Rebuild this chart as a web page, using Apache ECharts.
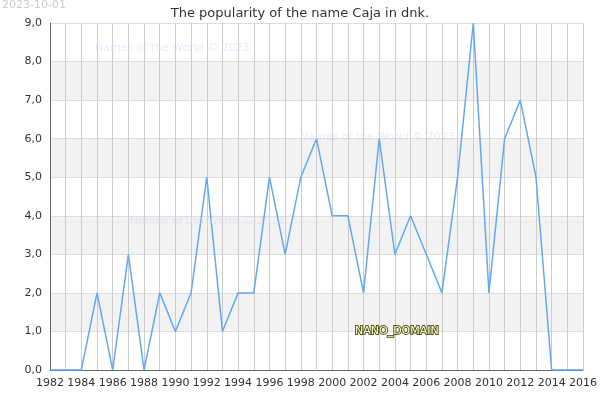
<!DOCTYPE html>
<html><head><meta charset="utf-8">
<script src="https://cdn.jsdelivr.net/npm/echarts@6/dist/echarts.min.js"></script>
</head><body style="margin:0">
<div id="c" style="width:600px;height:400px"></div>
<script>
var years=[1982,1983,1984,1985,1986,1987,1988,1989,1990,1991,1992,1993,1994,1995,1996,1997,1998,1999,2000,2001,2002,2003,2004,2005,2006,2007,2008,2009,2010,2011,2012,2013,2014,2015,2016];
var values=[0,0,0,2,0,3,0,2,1,2,5,1,2,2,5,3,5,6,4,4,2,6,3,4,3,2,5,9,2,6,7,5,0,0,0];
var title="The popularity of the name Caja in dnk.";
var ch=echarts.init(document.getElementById('c'));
var f="DejaVu Sans";
function wm(x,y,t,fill,stroke){return {type:'text',x:x,y:y,z:100,style:{text:t,fill:fill,stroke:stroke||null,lineWidth:stroke?2:0,fontSize:11,fontFamily:f}};}
ch.setOption({
 animation:false,
 title:{text:title,left:'center',top:2,textStyle:{fontFamily:f,fontSize:13,fontWeight:'normal',color:'#333'}},
 grid:{left:50,right:14,top:23,bottom:30},
 xAxis:{type:'value',min:1982,max:2016,interval:1,
  axisLine:{lineStyle:{color:'#666'}},axisTick:{show:false},
  axisLabel:{fontFamily:f,fontSize:11,color:'#333',formatter:function(v){return v%2===0?String(v):'';}},
  splitLine:{show:true,lineStyle:{color:'#ccc'}}},
 yAxis:{type:'value',min:0,max:9,interval:1,
  axisLine:{show:true,lineStyle:{color:'#666'}},axisTick:{show:false},
  axisLabel:{fontFamily:f,fontSize:11,color:'#333',formatter:function(v){return v.toFixed(1).replace('.',',');}},
  splitLine:{lineStyle:{color:'#ddd'}},
  splitArea:{show:true,areaStyle:{color:['#ffffff','#f2f2f2']}}},
 series:[{type:'line',data:years.map(function(y,i){return [y,values[i]];}),symbol:'none',
  lineStyle:{color:'#64a8ee',width:1.5}}],
 graphic:[
  wm(2,0,'2023-10-01','#cccccc'),
  wm(95,43,'Names of the World © 2023','rgba(215,215,245,0.5)'),
  wm(300,132,'Names of the World © 2023','rgba(215,215,245,0.5)'),
  wm(130,216,'Names of the World © 2023','rgba(215,215,245,0.5)'),
  wm(355,326,'NANO_DOMAIN','#ffffcc','#555522')
 ]
});
</script></body></html>
